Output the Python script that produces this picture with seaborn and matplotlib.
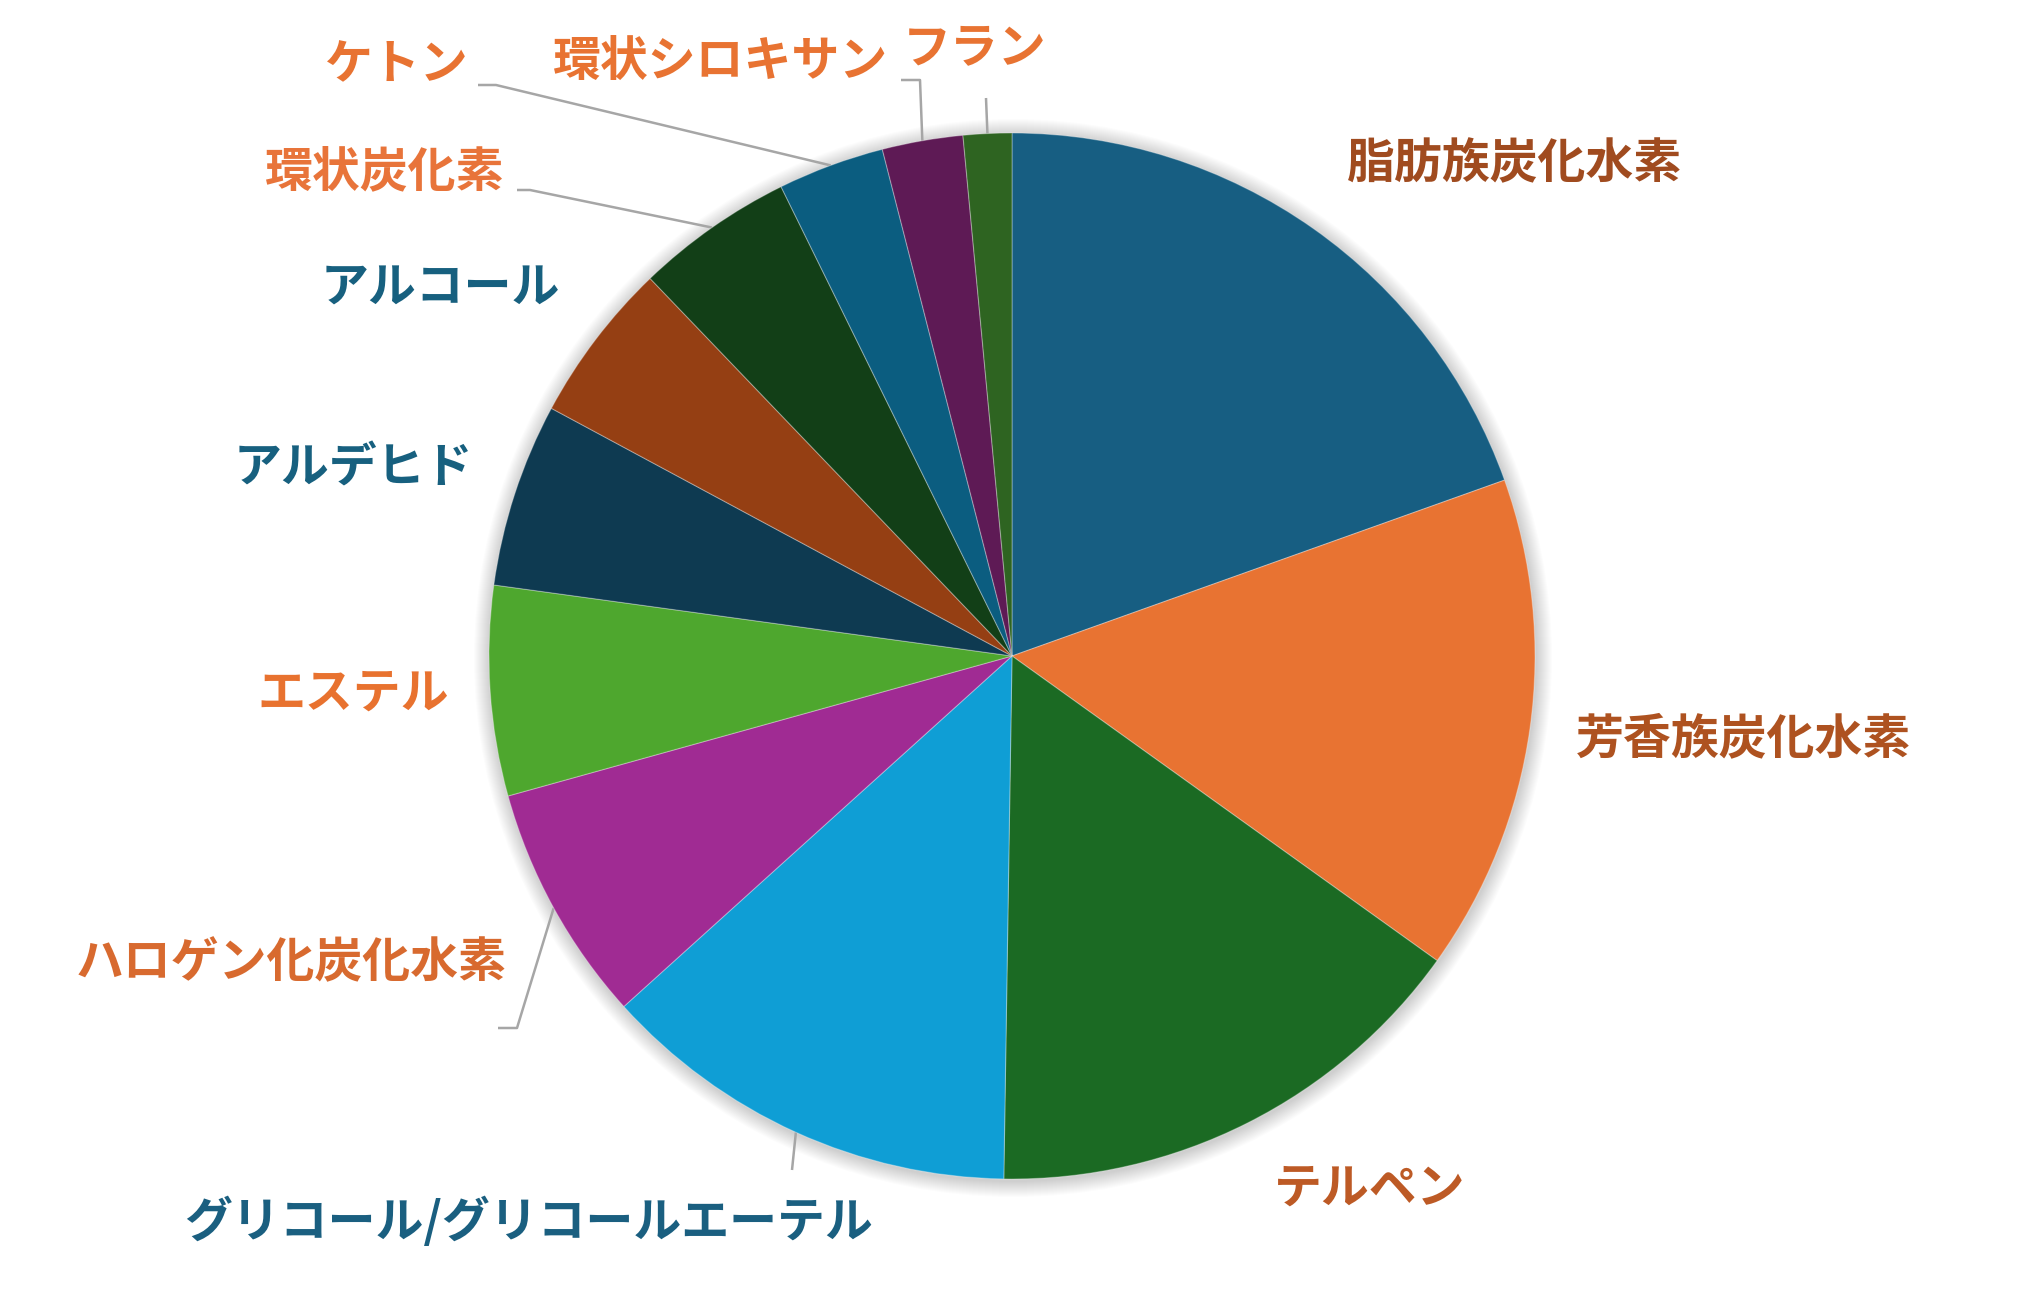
import numpy as np
import matplotlib
matplotlib.use("Agg")
import matplotlib.pyplot as plt
import seaborn as sns

# ---- data ----
categories = ["脂肪族炭化水素", "芳香族炭化水素", "テルペン", "グリコール/グリコールエーテル",
              "ハロゲン化炭化水素", "エステル", "アルデヒド", "アルコール",
              "環状炭化素", "ケトン", "環状シロキサン", "フラン"]
shares = [19.6, 15.4, 15.4, 13.1, 7.4, 6.5, 5.7, 5.0, 4.9, 3.3, 2.5, 1.5]

slice_colors = ["#175E82", "#E87332", "#1B6A23", "#0F9ED5", "#A02B93", "#4EA72E",
                "#0E3A51", "#953F13", "#123F17", "#0B5D80", "#5E1A55", "#2E6421"]
label_colors = ["#A04B1F", "#AE5220", "#BD5A25", "#1A5F80", "#D86A2F", "#E8722F",
                "#17607F", "#17607F", "#E8743A", "#E87332", "#E87332", "#E87332"]

# ---- layout (pixel coordinates, y measured from top) ----
W, H = 2027, 1314
CX, CY, R = 1012, 656, 523
label_pos = [(1515, 164), (1743, 739), (1370, 1188), (529, 1222), (291, 963),
             (353, 693), (353, 468), (440, 288), (385, 172), (397, 65),
             (721, 61), (975, 48)]
# leader polylines after the point on the pie edge: index -> list of points
leaders = {3: [(792, 1170)],
           4: [(517, 1028), (498, 1028)],
           8: [(530, 190), (517, 190)],
           9: [(496, 85), (478, 85)],
           10: [(920, 80), (901, 80)],
           11: [(986, 98)]}

sns.set_theme(style="white")
plt.rcParams['font.family'] = ['Noto Sans CJK JP', 'DejaVu Sans']

fig = plt.figure(figsize=(W / 100, H / 100), dpi=100)
ax = fig.add_axes([0, 0, 1, 1])

def fy(y):
    return H - y

# soft shadow
for i in range(16):
    c = plt.Circle((CX + 1, fy(CY) - 2), R + 16 - i, color="black", alpha=0.012, lw=0, zorder=0)
    ax.add_patch(c)

wedges, _ = ax.pie(shares, colors=slice_colors, startangle=90, counterclock=False,
                   center=(CX, fy(CY)), radius=R,
                   wedgeprops=dict(linewidth=0.8, edgecolor=(1, 1, 1, 0.3)))
for w in wedges:
    w.set_zorder(2)

# leader lines from mid-angle points on the pie edge
total = sum(shares)
cum = np.cumsum([0] + shares)
for idx, pts in leaders.items():
    mid = np.deg2rad((cum[idx] + cum[idx + 1]) / 2 / total * 360)
    x0 = CX + R * np.sin(mid)
    y0 = CY - R * np.cos(mid)
    xs = [x0] + [p[0] for p in pts]
    ys = [fy(y0)] + [fy(p[1]) for p in pts]
    ax.plot(xs, ys, color="#A6A6A6", lw=1.8, zorder=1, solid_capstyle="butt")

for name, (lx, ly), col in zip(categories, label_pos, label_colors):
    ax.text(lx, fy(ly), name, color=col, fontsize=34.5, fontweight="bold",
            ha="center", va="center", zorder=3)

ax.set_xlim(0, W)
ax.set_ylim(0, H)
ax.set_aspect("equal")
ax.axis("off")
fig.savefig("out.png", dpi=100, facecolor="white")
